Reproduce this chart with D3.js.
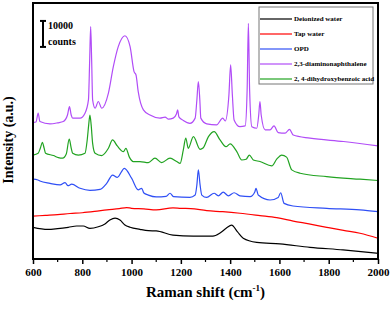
<!DOCTYPE html>
<html>
<head>
<meta charset="utf-8">
<script src="https://cdn.jsdelivr.net/npm/d3@7"></script>
<style>
  body { margin: 0; background: #fff; }
  svg { display: block; }
  text { font-family: 'Liberation Serif', 'Times New Roman', serif; font-weight: bold; }
</style>
</head>
<body>
<svg id="chart" width="392" height="309"></svg>
<script>
// Series names and colors (legend order)
const names = ['Deionized water', 'Tap water', 'OPD', '2,3-diaminonaphthalene', '2, 4-dihydroxybenzoic acid']
const colors = ['#000000', '#ff0000', '#2f4ff5', '#b14cf7', '#21a321']

// Raman shift (cm-1), intensity (counts, stacked offsets as drawn)
const deionized = [[600, 12200], [660, 11400], [700, 11700], [743, 12200], [777, 12700], [804, 12700],
  [831, 11800], [865, 12400], [892, 13500], [912, 15000], [933, 15700], [953, 15000], [973, 13100],
  [994, 12200], [1034, 11400], [1068, 10900], [1100, 10800], [1168, 9200], [1250, 8800], [1330, 8800],
  [1359, 10000], [1385, 11900], [1406, 13000], [1430, 10400], [1453, 8000], [1508, 6400], [1602, 5800],
  [1724, 4500], [1858, 3500], [2000, 2200]]

const tap = [[600, 16500], [650, 16800], [700, 17100], [750, 17500], [800, 17800], [850, 18300],
  [900, 18900], [950, 19400], [980, 19800], [1000, 19500], [1050, 19300], [1100, 18900], [1168, 19700],
  [1200, 19500], [1240, 19400], [1305, 18600], [1370, 18200], [1440, 17600], [1521, 16700], [1589, 15900],
  [1656, 14600], [1720, 13500], [1792, 12200], [1860, 11000], [1927, 9900], [2000, 8000]]

const opd = [[600, 30700], [620, 30400], [628, 30000], [669, 29100], [710, 28500], [730, 29400],
  [742, 28200], [757, 28800], [791, 27200], [831, 26400], [872, 26800], [899, 29100], [923, 32300],
  [942, 31400], [971, 34900], [1000, 31100], [1027, 26600], [1041, 27200], [1050, 25400], [1068, 24600],
  [1100, 23900], [1140, 24100], [1156, 25300], [1170, 24000], [1237, 23700], [1258, 24600], [1265, 28500],
  [1271, 34300], [1278, 28500], [1285, 24600], [1305, 23700], [1335, 25300], [1352, 24300], [1372, 25700],
  [1393, 24300], [1416, 25500], [1440, 24300], [1481, 24000], [1500, 25800], [1505, 27200], [1514, 24600],
  [1562, 22700], [1595, 23700], [1605, 25500], [1619, 21400], [1655, 20400], [1792, 19500], [1927, 18900],
  [2000, 18200]]

const dhba = [[600, 40000], [621, 40700], [630, 42700], [638, 44900], [645, 42700], [651, 40700],
  [683, 39800], [703, 39000], [720, 38800], [735, 40400], [747, 46100], [755, 42700], [761, 40700],
  [784, 40000], [811, 40700], [820, 45800], [826, 51600], [831, 55400], [836, 51600], [842, 44500],
  [852, 40700], [879, 39800], [906, 42600], [923, 45800], [942, 43500], [967, 41300], [977, 42600],
  [991, 39200], [1007, 37500], [1034, 37500], [1068, 37100], [1095, 38800], [1122, 37100], [1156, 38800],
  [1183, 37500], [1197, 36800], [1210, 42000], [1220, 46500], [1230, 42600], [1251, 47100], [1278, 42200],
  [1290, 42700], [1312, 47100], [1335, 49000], [1359, 45800], [1383, 43200], [1400, 44300], [1427, 41300],
  [1447, 38100], [1465, 38400], [1478, 40000], [1494, 38100], [1521, 37500], [1569, 35800], [1589, 38400],
  [1609, 40000], [1629, 39200], [1650, 34300], [1684, 33000], [1792, 31700], [1927, 30700], [2000, 30200]]

const dan = [[600, 52500], [612, 52700], [621, 56100], [628, 52900], [669, 52000], [700, 52400],
  [723, 52900], [740, 55400], [748, 58600], [755, 55400], [761, 54200], [791, 54200], [811, 56100],
  [825, 61200], [830, 76600], [834, 89400], [838, 76600], [842, 61200], [852, 58000], [865, 60600],
  [879, 58000], [906, 63800], [926, 74000], [946, 81700], [973, 85900], [994, 81700], [1010, 72100],
  [1018, 70800], [1027, 64400], [1048, 57400], [1075, 55400], [1115, 54200], [1136, 54600], [1150, 53800],
  [1169, 54200], [1182, 55800], [1187, 57400], [1192, 54700], [1210, 53300], [1237, 52200], [1258, 54200],
  [1265, 61200], [1271, 68300], [1277, 61200], [1281, 54200], [1305, 52000], [1345, 51600], [1370, 54200],
  [1380, 53100], [1395, 63100], [1402, 74700], [1409, 63100], [1416, 53500], [1440, 50900], [1461, 51200],
  [1469, 65100], [1474, 90700], [1479, 65100], [1488, 50900], [1508, 50300], [1516, 55400], [1521, 60600],
  [1526, 55400], [1542, 49700], [1562, 49700], [1578, 51200], [1595, 48600], [1623, 48400], [1641, 49900],
  [1656, 47700], [1724, 46500], [1860, 45200], [2000, 43500]]

const series = [deionized, tap, opd, dan, dhba]

// Axis ticks
const majorTicks = [600, 800, 1000, 1200, 1400, 1600, 1800, 2000]
const minorTicks = [700, 900, 1100, 1300, 1500, 1700, 1900]

const svg = d3.select('#chart')
const margin = { top: 3, right: 14, bottom: 50, left: 33 }
const width = 392 - margin.left - margin.right
const height = 309 - margin.top - margin.bottom

const g = svg.append('g').attr('transform', `translate(${margin.left},${margin.top})`)

const x = d3.scaleLinear().domain([600, 2000]).range([0, width])
const y = d3.scaleLinear().domain([0, 98500]).range([height, 0])

// Spectra
const line = d3.line()
  .x(d => x(d[0]))
  .y(d => y(d[1]))
  .curve(d3.curveMonotoneX)

g.selectAll('.spectrum')
  .data(series)
  .join('path')
  .attr('class', 'spectrum')
  .attr('fill', 'none')
  .attr('stroke', (d, i) => colors[i])
  .attr('stroke-width', 1.2)
  .attr('d', line)

// Bottom axis: major and minor ticks pointing outwards
const xAxis = g.append('g')
  .attr('transform', `translate(0,${height})`)
  .call(d3.axisBottom(x).tickValues(majorTicks).tickFormat(d3.format('d'))
    .tickSize(5).tickSizeOuter(0).tickPadding(4))
xAxis.select('.domain').remove()
xAxis.selectAll('line').attr('stroke-width', 1.5)
xAxis.selectAll('text')
  .style('font-family', "'Liberation Serif', serif")
  .style('font-weight', 'bold')
  .style('font-size', '11px')
  .attr('fill', '#000')

g.append('g')
  .attr('transform', `translate(0,${height})`)
  .selectAll('line')
  .data(minorTicks)
  .join('line')
  .attr('x1', d => x(d))
  .attr('x2', d => x(d))
  .attr('y1', 0)
  .attr('y2', 3)
  .attr('stroke', '#000')
  .attr('stroke-width', 1.2)

// Frame
g.append('rect')
  .attr('width', width)
  .attr('height', height)
  .attr('fill', 'none')
  .attr('stroke', '#000')
  .attr('stroke-width', 2)

// Axis titles
const xTitle = svg.append('text')
  .attr('x', margin.left + width / 2)
  .attr('y', 297)
  .attr('text-anchor', 'middle')
  .style('font-size', '15px')
xTitle.append('tspan').text('Raman shift (cm')
xTitle.append('tspan').attr('dy', -6).style('font-size', '9px').text('-1')
xTitle.append('tspan').attr('dy', 6).text(')')

svg.append('text')
  .attr('transform', 'translate(13,140) rotate(-90)')
  .attr('text-anchor', 'middle')
  .style('font-size', '14px')
  .text('Intensity (a.u.)')

// Scale bar: 10000 counts
const barTop = 91600
const bar = g.append('g').attr('stroke', '#000').attr('stroke-width', 2)
bar.append('line').attr('x1', 10).attr('x2', 10).attr('y1', y(barTop)).attr('y2', y(barTop - 10000))
bar.append('line').attr('x1', 7).attr('x2', 13).attr('y1', y(barTop)).attr('y2', y(barTop))
bar.append('line').attr('x1', 7).attr('x2', 13).attr('y1', y(barTop - 10000)).attr('y2', y(barTop - 10000))
g.append('text').attr('x', 15).attr('y', 26).style('font-size', '10px').text('10000')
g.append('text').attr('x', 15).attr('y', 41.5).style('font-size', '10px').text('counts')

// Legend
const legend = svg.append('g').attr('transform', 'translate(259,7)')
legend.append('rect')
  .attr('width', 114)
  .attr('height', 77)
  .attr('fill', '#fff')
  .attr('stroke', '#777')
  .attr('stroke-width', 1)

const items = legend.selectAll('.item')
  .data(names)
  .join('g')
  .attr('class', 'item')
  .attr('transform', (d, i) => `translate(0,${12 + i * 15})`)

items.append('line')
  .attr('x1', 1)
  .attr('x2', 33)
  .attr('stroke', (d, i) => colors[i])
  .attr('stroke-width', 1.2)

items.append('text')
  .attr('x', 35)
  .attr('dy', '0.35em')
  .style('font-size', '7px')
  .text(d => d)
</script>
</body>
</html>
